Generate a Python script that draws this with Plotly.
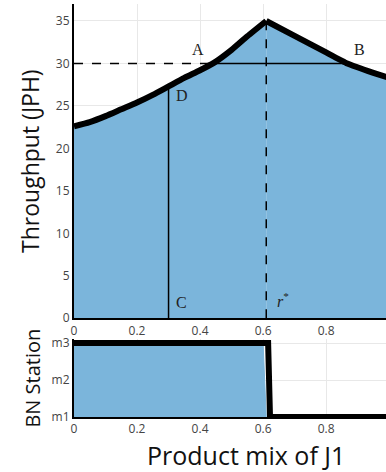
import plotly.graph_objects as go

# throughput curve (product mix of J1 -> JPH), rising branch up to r* and falling branch after
mix_up = [0.0, 0.05, 0.1, 0.15, 0.2, 0.25, 0.3, 0.35, 0.4, 0.445, 0.5, 0.55, 0.61]
jph_up = [22.6, 23.1, 23.8, 24.6, 25.4, 26.3, 27.3, 28.3, 29.2, 30.1, 31.6, 33.2, 35.0]
mix_down = [0.61, 0.7, 0.8, 0.867, 0.95, 1.0]
jph_down = [35.0, 33.25, 31.3, 30.0, 28.9, 28.3]

r_star = 0.61
target = 30
point_a = 0.445
point_b = 0.867
point_cd = 0.30
point_d_jph = 27.3

# bottleneck station
stations = ["m1", "m2", "m3"]
bn_fill_x = [0.0, 0.6, 0.61]
bn_fill_y = ["m3", "m3", "m1"]
bn_line_x = [0.0, 0.616, 0.622, 1.0]
bn_line_y = ["m3", "m3", "m1", "m1"]

labels = ["A", "B", "C", "D", "<i>r</i><sup>*</sup>"]
label_x = [0.394, 0.905, 0.34, 0.343, 0.664]
label_y = [31.6, 31.6, 1.9, 26.2, 2.2]

blue = "rgb(123,181,219)"
idx = {s: i for i, s in enumerate(stations)}

fig = go.Figure()
for xs, ys, sm in [(mix_up, jph_up, 0.6), (mix_down, jph_down, 0.3)]:
    fig.add_trace(go.Scatter(x=xs, y=ys, fill="tozeroy", fillcolor=blue,
                             line=dict(color="black", width=6, shape="spline", smoothing=sm),
                             mode="lines", xaxis="x", yaxis="y"))
fig.add_trace(go.Scatter(x=[0, point_a], y=[target, target], mode="lines",
                         line=dict(color="black", width=1.5, dash="dash")))
fig.add_trace(go.Scatter(x=[point_a, point_b], y=[target, target], mode="lines",
                         line=dict(color="black", width=1.5)))
fig.add_trace(go.Scatter(x=[r_star, r_star], y=[0, 35], mode="lines",
                         line=dict(color="black", width=1.5, dash="dash")))
fig.add_trace(go.Scatter(x=[point_cd, point_cd], y=[0, point_d_jph], mode="lines",
                         line=dict(color="black", width=1.5)))

fig.add_trace(go.Scatter(x=bn_fill_x, y=[idx[s] for s in bn_fill_y], fill="tozeroy",
                         fillcolor=blue, mode="lines", line=dict(color=blue, width=1),
                         xaxis="x2", yaxis="y2"))
fig.add_trace(go.Scatter(x=bn_line_x, y=[idx[s] for s in bn_line_y], mode="lines",
                         line=dict(color="black", width=6), xaxis="x2", yaxis="y2"))

for t, x, y in zip(labels, label_x, label_y):
    fig.add_annotation(x=x, y=y, text=t, showarrow=False, xref="x", yref="y",
                       font=dict(family="Liberation Serif", size=16, color="#222"))

# x title placed as annotation (the original is centred a bit right of the visible plot)
fig.add_annotation(x=0.551, y=-0.092, xref="paper", yref="paper", text="Product mix of J1",
                   showarrow=False, xanchor="center", yanchor="middle",
                   font=dict(size=25, color="#111"))

axis_common = dict(showgrid=True, gridcolor="#e8e8e8", showline=True, linecolor="black",
                   linewidth=2, zeroline=False, automargin=False,
                   tickfont=dict(size=12, color="#444"))

fig.update_layout(
    width=386, height=472,
    margin=dict(l=74, r=0, t=4, b=55),
    plot_bgcolor="white", paper_bgcolor="white",
    showlegend=False,
    font=dict(family="Open Sans"),
    xaxis=dict(domain=[0, 1], range=[0, 0.99], tickvals=[0, 0.2, 0.4, 0.6, 0.8],
               ticktext=["0", "0.2", "0.4", "0.6", "0.8"], anchor="y", **axis_common),
    yaxis=dict(domain=[0.239, 1], range=[0, 37], tickvals=[0, 5, 10, 15, 20, 25, 30, 35],
               title=dict(text="Throughput (JPH)", font=dict(size=23, color="#111"),
                          standoff=10),
               anchor="x", **axis_common),
    xaxis2=dict(domain=[0, 1], range=[0, 0.99], tickvals=[0, 0.2, 0.4, 0.6, 0.8],
                ticktext=["0", "0.2", "0.4", "0.6", "0.8"], anchor="y2", **axis_common),
    yaxis2=dict(domain=[0, 0.188], range=[0, 2.1], tickvals=[0, 1, 2], ticktext=stations,
                title=dict(text="BN Station", font=dict(size=20, color="#111"),
                           standoff=6),
                anchor="x2", **axis_common),
)

fig.write_html("out.html", config={"displayModeBar": False},
               post_script="document.body.style.margin='0';")
